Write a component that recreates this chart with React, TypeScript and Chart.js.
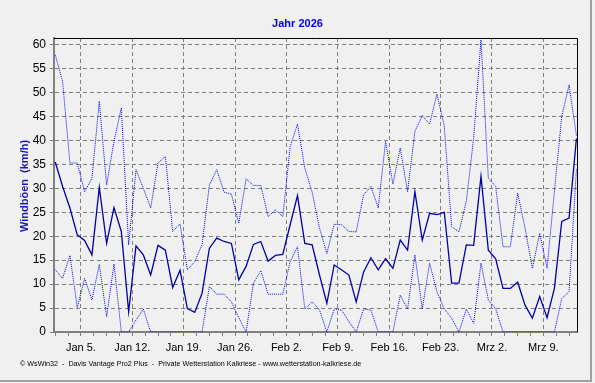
import React, { useEffect, useRef } from 'react';
import { Chart, registerables } from 'chart.js';

Chart.register(...registerables);

// ---- Data (daily values from Jan 1, 2026) ----
const chartTitle = 'Jahr 2026';
const yAxisTitle = 'Windböen  (km/h)';
const footerText =
  '© WsWin32  -  Davis Vantage Pro2 Plus  -  Private Wetterstation Kalkriese - www.wetterstation-kalkriese.de';

const maxGust = [
  57.9, 52.3, 35.3, 35.3, 29.3, 32.1, 48.2, 30.7, 39.8, 46.8, 18.2, 33.9, 30.0, 25.9, 35.3, 36.7,
  21.0, 22.6, 13.0, 14.7, 18.2, 30.7, 33.9, 29.2, 28.8, 22.7, 32.0, 30.6, 30.6, 24.1, 25.5, 24.1,
  38.7, 43.4, 34.2, 29.2, 21.7, 16.4, 22.5, 22.4, 21.0, 20.9, 28.6, 30.4, 25.9, 39.8, 30.9, 38.4,
  29.3, 41.9, 45.2, 43.4, 49.7, 43.0, 22.0, 20.9, 27.3, 40.5, 61.0, 32.1, 30.4, 17.8, 17.8, 29.0,
  21.7, 13.3, 20.6, 13.3, 29.3, 45.0, 51.6, 41.0,
];

const meanGust = [
  35.5, 30.4, 25.9, 20.3, 19.1, 16.1, 30.2, 18.5, 26.0, 21.0, 4.2, 18.0, 16.1, 11.9, 18.1, 17.1,
  9.3, 12.9, 4.9, 4.1, 8.1, 17.5, 19.6, 18.9, 18.5, 10.9, 13.7, 18.3, 18.9, 14.8, 16.0, 16.2,
  22.4, 28.5, 18.5, 18.2, 11.9, 6.0, 14.0, 13.0, 11.9, 6.3, 12.5, 15.5, 13.0, 15.3, 13.3, 19.2,
  17.1, 29.3, 19.2, 24.8, 24.5, 25.0, 10.2, 10.2, 18.2, 18.1, 32.5, 17.1, 15.3, 9.1, 9.1, 10.4,
  5.6, 2.9, 7.4, 3.0, 9.1, 23.1, 23.8, 40.4,
];

const minGust = [
  13.0, 11.2, 16.0, 5.1, 11.2, 6.7, 14.1, 3.2, 14.2, 0, 0, 2.5, 4.8, 0, 0, 0,
  0, 0, 0, 0, 0, 9.5, 7.9, 7.9, 6.3, 3.0, 0, 10.2, 12.8, 7.9, 7.9, 7.9,
  14.7, 17.8, 4.8, 6.3, 4.6, 0, 4.8, 4.6, 2.2, 0, 4.8, 4.6, 0, 0, 0, 7.7,
  4.8, 16.1, 4.8, 14.4, 8.4, 4.8, 2.9, 0, 4.8, 1.8, 14.4, 6.7, 4.8, 0, 0, 0,
  0, 0, 0, 0, 0, 7.0, 8.4, 34.0,
];

// week tick labels and their day number (days since Jan 1)
const weekLabels = ['Jan 5.', 'Jan 12.', 'Jan 19.', 'Jan 26.', 'Feb 2.', 'Feb 9.', 'Feb 16.', 'Feb 23.', 'Mrz 2.', 'Mrz 9.'];
const weekDays = [4, 11, 18, 25, 32, 39, 46, 53, 60, 67];

const yTickValues = [0, 5, 10, 15, 20, 25, 30, 35, 40, 45, 50, 55, 60];

const toPoints = (arr: number[]) => arr.map((v, i) => ({ x: i + 0.5, y: v }));

const isWeek = (v: number) => weekDays.some((d) => Math.abs(d - v) < 1e-6);

const decorPlugin = {
  id: 'decor',
  beforeDraw(chart: any) {
    const { ctx, width, height } = chart;
    ctx.save();
    ctx.fillStyle = '#f0f0f0';
    ctx.fillRect(0, 0, width, height);
    ctx.restore();
  },
  afterDraw(chart: any) {
    const { ctx, chartArea, width } = chart;
    ctx.save();
    // frame top and right
    ctx.strokeStyle = '#000000';
    ctx.lineWidth = 1;
    ctx.beginPath();
    ctx.moveTo(chartArea.left, chartArea.top + 0.5);
    ctx.lineTo(chartArea.right + 0.5, chartArea.top + 0.5);
    ctx.lineTo(chartArea.right + 0.5, chartArea.bottom);
    ctx.stroke();

    // title
    ctx.fillStyle = '#0000f0';
    ctx.font = 'bold 11px "Liberation Sans", Arial, sans-serif';
    ctx.textAlign = 'center';
    ctx.textBaseline = 'middle';
    ctx.fillText(chartTitle, width / 2, 24);

    // y axis title
    ctx.save();
    ctx.translate(25, (chartArea.top + chartArea.bottom) / 2 + 1);
    ctx.rotate(-Math.PI / 2);
    ctx.fillStyle = '#1a1ab4';
    ctx.fillText(yAxisTitle, 0, 0);
    ctx.restore();

    // footer
    ctx.fillStyle = '#000000';
    ctx.font = '7.2px "Liberation Sans", Arial, sans-serif';
    ctx.textAlign = 'left';
    ctx.textBaseline = 'middle';
    ctx.fillText(footerText, 20, 364);

    // outer border (right / bottom)
    ctx.fillStyle = '#a0a0a0';
    ctx.fillRect(590, 0, 2, 382);
    ctx.fillRect(0, 380, 592, 2);
    ctx.restore();
  },
};

export default function App() {
  const canvasRef = useRef<HTMLCanvasElement | null>(null);

  useEffect(() => {
    const canvas = canvasRef.current;
    if (!canvas) return;
    const chart = new Chart(canvas, {
      type: 'line',
      data: {
        datasets: [
          {
            label: 'Mittel',
            data: toPoints(meanGust),
            borderColor: '#0000a8',
            borderWidth: 1.3,
            pointRadius: 0,
            tension: 0,
            fill: false,
          },
          {
            label: 'Max',
            data: toPoints(maxGust),
            borderColor: '#0000ff',
            borderWidth: 1,
            borderDash: [1, 1],
            pointRadius: 0,
            tension: 0,
            fill: false,
          },
          {
            label: 'Min',
            data: toPoints(minGust),
            borderColor: '#0000ff',
            borderWidth: 1,
            borderDash: [1, 1],
            pointRadius: 0,
            tension: 0,
            fill: false,
          },
        ],
      },
      options: {
        animation: false,
        responsive: false,
        devicePixelRatio: 1,
        events: [],
        layout: { padding: { left: 0, top: 38, right: 18, bottom: 0 } },
        plugins: {
          legend: { display: false },
          tooltip: { enabled: false },
          title: { display: false },
        },
        scales: {
          x: {
            type: 'linear',
            min: 0.33,
            max: 71.58,
            afterBuildTicks: (axis: any) => {
              const ticks: { value: number }[] = [];
              for (let v = 0.5; v <= 71.58; v += 1.75) ticks.push({ value: v });
              axis.ticks = ticks;
            },
            afterFit: (axis: any) => {
              axis.height = 51;
            },
            grid: {
              color: (ctx: any) => (ctx.tick && isWeek(ctx.tick.value) ? '#808080' : 'rgba(0,0,0,0)'),
              tickColor: '#808080',
              lineWidth: 1,
              tickLength: 4,
              drawTicks: true,
            },
            border: { display: true, color: '#808080', width: 2, dash: [4, 3] },
            ticks: {
              autoSkip: false,
              maxRotation: 0,
              minRotation: 0,
              padding: 5,
              color: '#000000',
              font: { family: '"Liberation Sans", Arial, sans-serif', size: 11 },
              callback: (value: any) => {
                const idx = weekDays.findIndex((d) => Math.abs(d - Number(value)) < 1e-6);
                return idx >= 0 ? weekLabels[idx] : '';
              },
            },
          },
          y: {
            type: 'linear',
            min: 0,
            max: 61.4,
            afterBuildTicks: (axis: any) => {
              axis.ticks = yTickValues.map((v) => ({ value: v }));
            },
            afterFit: (axis: any) => {
              axis.width = 54;
            },
            grid: {
              color: '#808080',
              tickColor: '#808080',
              lineWidth: 1,
              tickLength: 4,
              drawTicks: true,
            },
            border: { display: true, color: '#808080', width: 2, dash: [4, 3] },
            ticks: {
              padding: 4,
              color: '#000000',
              font: { family: '"Liberation Sans", Arial, sans-serif', size: 12 },
              callback: (value: any) => String(value),
            },
          },
        },
      },
      plugins: [decorPlugin],
    });
    return () => chart.destroy();
  }, []);

  return (
    <div style={{ position: 'fixed', left: 0, top: 0, width: 595, height: 383, background: '#f0f0f0' }}>
      <canvas ref={canvasRef} width={595} height={383} style={{ display: 'block', width: 595, height: 383 }} />
    </div>
  );
}
